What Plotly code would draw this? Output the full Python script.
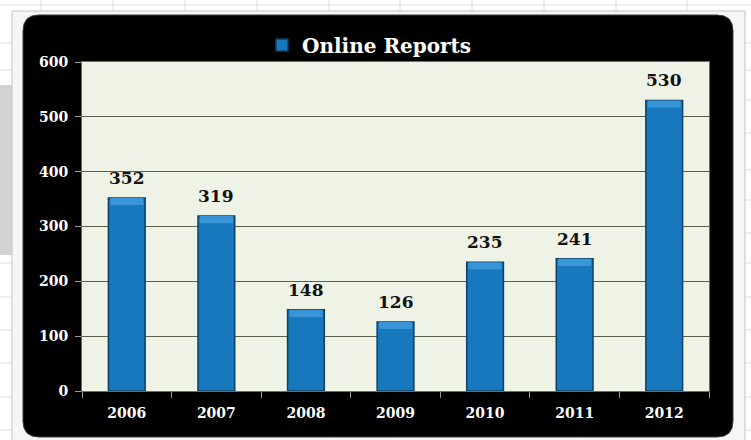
import plotly.graph_objects as go

years = ["2006", "2007", "2008", "2009", "2010", "2011", "2012"]
reports = [352, 319, 148, 126, 235, 241, 530]
y_ticks = [0, 100, 200, 300, 400, 500, 600]
series_name = "Online Reports"

W, H = 751, 440
L, R, T, B = 82, 709, 62, 391  # plot area in pixels
BEVEL = 13  # height of the light top bevel, in data units


def px(x):
    return (x - L) / (R - L)


def py(y):
    return (B - y) / (B - T)


def rounded_rect(x0, y0, x1, y1, r):
    a, b, c, d = px(x0), px(x1), py(y0), py(y1)
    rx = r / (R - L)
    ry = r / (B - T)
    return (f"M{a + rx},{c} L{b - rx},{c} Q{b},{c} {b},{c - ry} "
            f"L{b},{d + ry} Q{b},{d} {b - rx},{d} L{a + rx},{d} "
            f"Q{a},{d} {a},{d + ry} L{a},{c - ry} Q{a},{c} {a + rx},{c} Z")


shapes = []
# spreadsheet grid in background
for gx in [41, 113, 185, 257, 329, 400, 472, 544, 616, 687]:
    shapes.append(dict(type="line", xref="paper", yref="paper", layer="below",
                       x0=px(gx), x1=px(gx), y0=py(0), y1=py(H),
                       line=dict(color="#dedede", width=1)))
for gy in [5, 43, 70, 100, 133, 170, 200, 233, 263, 297, 330, 363, 397, 430]:
    shapes.append(dict(type="line", xref="paper", yref="paper", layer="below",
                       x0=px(0), x1=px(W), y0=py(gy), y1=py(gy),
                       line=dict(color="#dedede", width=1)))
# gray blurred picture at left
shapes.append(dict(type="rect", xref="paper", yref="paper", layer="below",
                   x0=px(0), x1=px(12), y0=py(85), y1=py(255),
                   fillcolor="#d2d2d2", line=dict(width=0)))
# chart object outer border
shapes.append(dict(type="rect", xref="paper", yref="paper", layer="below",
                   x0=px(12), x1=px(745), y0=py(11), y1=py(441),
                   fillcolor="#f6f6f6", line=dict(color="#c4c4c4", width=1)))
# black rounded frame
shapes.append(dict(type="path", xref="paper", yref="paper", layer="below",
                   path=rounded_rect(23, 15, 733, 437, 16),
                   fillcolor="#000000", line=dict(color="#3a3a3a", width=1)))
# plot area background
shapes.append(dict(type="rect", xref="paper", yref="paper", layer="below",
                   x0=0, x1=1, y0=0, y1=1,
                   fillcolor="#eff3e6", line=dict(width=0)))

serif = "DejaVu Serif, Liberation Serif, serif"

fig = go.Figure()
fig.add_trace(go.Bar(
    x=years, y=reports, name=series_name, width=0.41,
    marker=dict(color="#1878be", line=dict(color="#0d3f66", width=1.5)),
    showlegend=True, hoverinfo="x+y",
))
# light bevel at the top of each bar
fig.add_trace(go.Bar(
    x=years, y=[BEVEL] * len(reports), base=[v - BEVEL for v in reports],
    width=0.37, marker=dict(color="#3896d8", line=dict(width=0)),
    showlegend=False, hoverinfo="skip",
))

# value labels above the bars (x given as category index)
annotations = [
    dict(x=i, y=v, xref="x", yref="y", text=str(v), showarrow=False,
         yanchor="bottom", yshift=8,
         font=dict(family=serif, size=17, color="#111111", weight="bold"))
    for i, v in enumerate(reports)
]

fig.update_layout(
    width=W, height=H,
    margin=dict(l=L, r=W - R, t=T, b=H - B, pad=0),
    paper_bgcolor="#ffffff",
    plot_bgcolor="rgba(0,0,0,0)",
    barmode="overlay",
    shapes=shapes,
    annotations=annotations,
    showlegend=True,
    legend=dict(orientation="h", x=px(262), xanchor="left", y=py(45), yanchor="middle",
                font=dict(family=serif, size=20, color="#ffffff", weight="bold"),
                bgcolor="rgba(0,0,0,0)", itemwidth=30),
    xaxis=dict(
        type="category", categoryorder="array", categoryarray=years,
        range=[-0.5, len(years) - 0.5],
        tickfont=dict(family=serif, size=14, color="#ffffff", weight="bold"),
        showline=True, linecolor="#6e705f", linewidth=1, mirror=True,
        ticks="outside", tickson="boundaries", ticklen=6, tickcolor="#9a9a9a",
        ticklabelstandoff=9,
        showgrid=False, fixedrange=True,
    ),
    yaxis=dict(
        range=[0, 600], tickvals=y_ticks, ticktext=[str(v) for v in y_ticks],
        tickfont=dict(family=serif, size=14, color="#ffffff", weight="bold"),
        showline=True, linecolor="#6e705f", linewidth=1, mirror=True,
        ticks="outside", ticklen=6, tickcolor="#9a9a9a",
        ticklabelstandoff=4,
        showgrid=True, gridcolor="#5c5f4c", gridwidth=1, zeroline=False,
        fixedrange=True,
    ),
)

fig.write_html("out.html", config={"displayModeBar": False},
               post_script="document.body.style.margin='0';")
